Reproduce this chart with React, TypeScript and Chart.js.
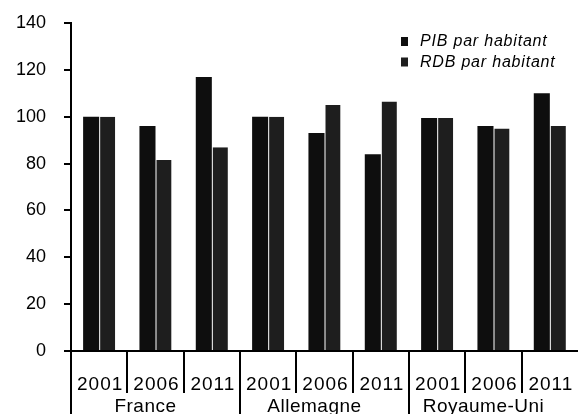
import React, { useEffect, useRef } from "react";
import { Chart, registerables } from "chart.js";

Chart.register(...registerables);

const years = ["2001", "2006", "2011", "2001", "2006", "2011", "2001", "2006", "2011"];
const countries = ["France", "Allemagne", "Royaume-Uni"];
const pibValues = [100, 96, 117, 100, 93, 84, 99.5, 96, 110];
const rdbValues = [100, 81.5, 87, 100, 105, 106.5, 99.5, 95, 96];
const seriesNames = ["PIB par habitant", "RDB par habitant"];
const yTicks = [0, 20, 40, 60, 80, 100, 120, 140];

const PIB_COLOR = "#0e0e0e";
const RDB_COLOR = "#1e1e1e";
const FONT = "'Liberation Sans', Arial, sans-serif";

const overlayPlugin = {
  id: "overlay",
  afterDraw(chart: any) {
    const { ctx, chartArea, scales } = chart;
    const x = scales.x;
    const n = years.length;
    const cw = (chartArea.right - chartArea.left) / n;
    const bottom = chartArea.bottom;
    const H = chart.height;
    ctx.save();
    ctx.strokeStyle = "#000";
    ctx.lineWidth = 2;
    // x axis baseline
    ctx.beginPath();
    ctx.moveTo(chartArea.left - 7, bottom);
    ctx.lineTo(chartArea.right, bottom);
    ctx.stroke();
    // separators
    for (let i = 0; i < n; i++) {
      const bx = Math.round(x.getPixelForValue(i) - cw / 2);
      const full = i % 3 === 0;
      ctx.beginPath();
      ctx.moveTo(bx, bottom);
      ctx.lineTo(bx, full ? H : bottom + 42);
      ctx.stroke();
    }
    // year labels
    ctx.fillStyle = "#000";
    ctx.font = `19px ${FONT}`;
    (ctx as any).letterSpacing = "1px";
    ctx.textAlign = "center";
    ctx.textBaseline = "alphabetic";
    years.forEach((y, i) => {
      ctx.fillText(y, x.getPixelForValue(i) + 1, bottom + 39);
    });
    // country labels
    (ctx as any).letterSpacing = "0.5px";
    countries.forEach((c, g) => {
      const cx = x.getPixelForValue(g * 3 + 1) - 10;
      ctx.fillText(c, cx, bottom + 61);
    });
    // legend
    const lx = chartArea.right - 177;
    const ly = chartArea.top + 19;
    const colors = [PIB_COLOR, RDB_COLOR];
    ctx.font = `italic 16px ${FONT}`;
    (ctx as any).letterSpacing = "0.8px";
    ctx.textAlign = "left";
    ctx.textBaseline = "middle";
    seriesNames.forEach((s, i) => {
      const yy = ly + i * 20.5;
      ctx.fillStyle = colors[i];
      ctx.fillRect(lx, yy - 5, 7, 9);
      ctx.fillStyle = "#000";
      ctx.fillText(s, lx + 19, yy);
    });
    (ctx as any).letterSpacing = "0px";
    ctx.restore();
  },
};

export default function App() {
  const ref = useRef<HTMLCanvasElement>(null);
  useEffect(() => {
    if (!ref.current) return;
    const chart = new Chart(ref.current, {
      type: "bar",
      data: {
        labels: years.map((y, i) => `${countries[Math.floor(i / 3)]} ${y}`),
        datasets: [
          {
            label: seriesNames[0],
            data: pibValues,
            backgroundColor: PIB_COLOR,
            borderWidth: 0,
            categoryPercentage: 0.57,
            barPercentage: 1,
          },
          {
            label: seriesNames[1],
            data: rdbValues,
            backgroundColor: RDB_COLOR,
            borderColor: "#ffffff",
            borderWidth: { left: 1, right: 0, top: 0, bottom: 0 },
            borderSkipped: false,
            categoryPercentage: 0.57,
            barPercentage: 1,
          },
        ],
      },
      options: {
        animation: false,
        responsive: false,
        maintainAspectRatio: false,
        layout: { padding: { top: 23, bottom: 63, left: 0, right: 0 } },
        plugins: {
          legend: { display: false },
          tooltip: { enabled: false },
          title: { display: false },
        },
        scales: {
          x: { display: false, offset: true },
          y: {
            min: 0,
            max: 140,
            afterFit(scale: any) {
              scale.width = 71;
              scale.paddingTop = 0;
              scale.paddingBottom = 0;
            },
            afterBuildTicks(scale: any) {
              scale.ticks = yTicks.map((v) => ({ value: v }));
            },
            border: { display: true, color: "#000", width: 2 },
            grid: {
              drawOnChartArea: false,
              drawTicks: true,
              tickLength: 7,
              color: "#000",
              lineWidth: 2,
            },
            ticks: {
              color: "#000",
              padding: 18,
              font: { family: FONT, size: 18 },
            },
          },
        },
      },
      plugins: [overlayPlugin],
    });
    return () => chart.destroy();
  }, []);
  return (
    <div style={{ position: "fixed", left: 0, top: 0, width: 578, height: 414, background: "#fff" }}>
      <canvas ref={ref} width={578} height={414} style={{ display: "block" }} />
    </div>
  );
}
